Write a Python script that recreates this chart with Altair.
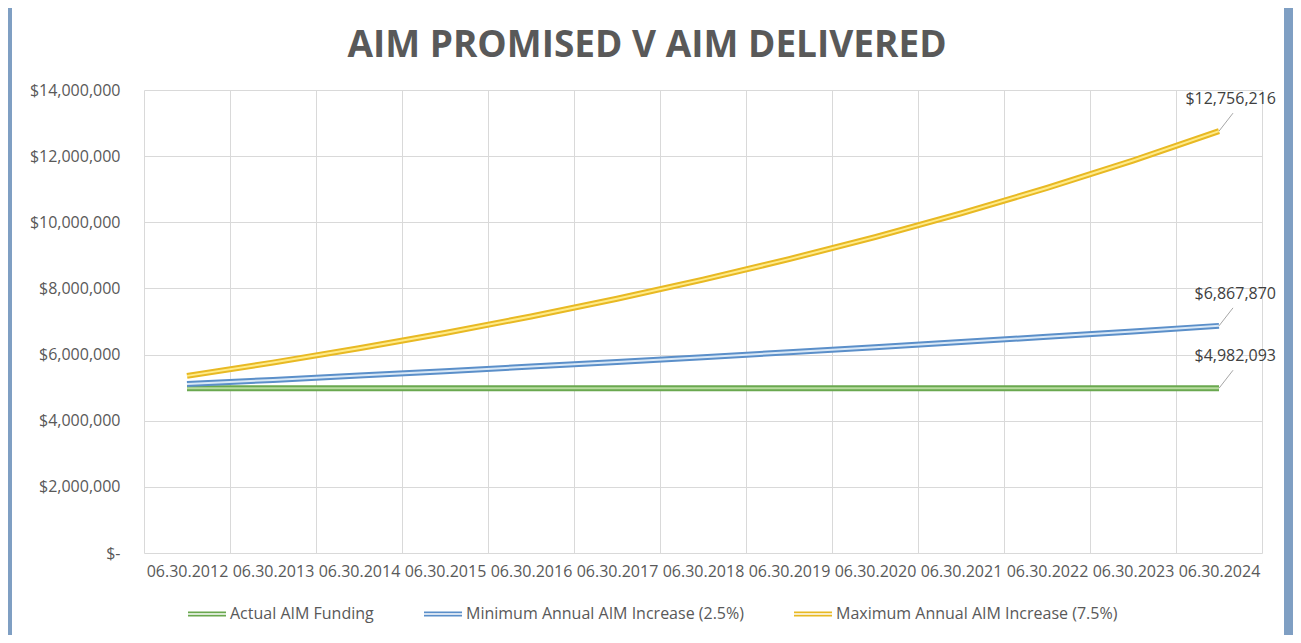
import altair as alt
import pandas as pd

years = ["06.30.2012", "06.30.2013", "06.30.2014", "06.30.2015", "06.30.2016",
         "06.30.2017", "06.30.2018", "06.30.2019", "06.30.2020", "06.30.2021",
         "06.30.2022", "06.30.2023", "06.30.2024"]
actual = [4982093, 4982093, 4982093, 4982093, 4982093, 4982093, 4982093,
          4982093, 4982093, 4982093, 4982093, 4982093, 4982093]
minimum = [5106648, 5234314, 5365172, 5499301, 5636784, 5777703, 5922146,
           6070199, 6221954, 6377503, 6536940, 6700364, 6867870]
maximum = [5355833, 5757520, 6189334, 6653534, 7152549, 7688990, 8265664,
           8885589, 9552008, 10268409, 11038540, 11866431, 12756216]
series_names = ["Actual AIM Funding", "Minimum Annual AIM Increase (2.5%)",
                "Maximum Annual AIM Increase (7.5%)"]
outer_colors = ["#6aa84f", "#5b8fc9", "#e8b923"]
inner_colors = ["#b9dca0", "#d9e8f6", "#ffeb8a"]
y_ticks = [0, 2000000, 4000000, 6000000, 8000000, 10000000, 12000000, 14000000]
title_text = "AIM PROMISED V AIM DELIVERED"

rows = []
for name, vals in zip(series_names, [actual, minimum, maximum]):
    for yr, v in zip(years, vals):
        rows.append({"year": yr, "series": name, "value": v})
df = pd.DataFrame(rows)

W, H = 1118, 463
FONT = "Open Sans"
GRAY = "#595959"
GRID = "#d9d9d9"
BORDER = "#7f9fc3"

x_enc = alt.X("year:O", sort=years, bandPosition=0.5,
              scale=alt.Scale(type="band", paddingInner=0, paddingOuter=0),
              axis=alt.Axis(title=None, labelAngle=0, labelFontSize=16, labelColor=GRAY,
                            labelFont=FONT, labelPadding=10, ticks=False, domain=False,
                            grid=True, gridColor=GRID, tickBand="extent",
                            labelOverlap=False))
y_enc = alt.Y("value:Q", scale=alt.Scale(domain=[0, 14000000], nice=False, zero=True),
              axis=alt.Axis(title=None, values=y_ticks,
                            labelExpr="datum.value == 0 ? '$-\u00a0\u00a0' : '$' + format(datum.value, ',')",
                            grid=True, gridColor=GRID, domain=False, ticks=False,
                            labelPadding=24, labelFontSize=16, labelColor=GRAY, labelFont=FONT))

base = alt.Chart(df)

outer = base.mark_line(strokeWidth=6).encode(
    x=x_enc, y=y_enc,
    color=alt.Color("series:N", sort=series_names,
                    scale=alt.Scale(domain=series_names, range=outer_colors),
                    legend=alt.Legend(orient="none", direction="horizontal",
                                      legendX=43, legendY=504,
                                      symbolType="M-1,-0.085H1M-1,0.085H1",
                                      symbolSize=1444, symbolStrokeWidth=1.6,
                                      columnPadding=46, labelOffset=3,
                                      labelFontSize=16, labelFont=FONT, labelColor=GRAY,
                                      labelLimit=400, title=None, padding=0,
                                      symbolOpacity=1)))

inner = base.mark_line(strokeWidth=2).encode(
    x=x_enc, y=y_enc,
    color=alt.Color("series:N", sort=series_names,
                    scale=alt.Scale(domain=series_names, range=inner_colors),
                    legend=None))

last = base.transform_filter(alt.datum.year == years[-1])

leader = last.mark_rule(color="#a6a6a6", strokeWidth=1, x2Offset=14, y2Offset=-18).encode(
    x=x_enc, y=y_enc,
    x2=alt.X2("year:O", bandPosition=0.5), y2=alt.Y2("value:Q"))

end_labels = last.transform_calculate(
    lbl="'$' + format(datum.value, ',')"
).mark_text(align="right", baseline="middle", dx=57, dy=-32, fontSize=16,
            font=FONT, color="#404040").encode(
    x=x_enc, y=y_enc, text="lbl:N")

one = pd.DataFrame({"a": [0]})
strip_left = alt.Chart(one).mark_rect(color=BORDER).encode(
    x=alt.value(-136), x2=alt.value(-132), y=alt.value(-82), y2=alt.value(545))
strip_right = alt.Chart(one).mark_rect(color=BORDER).encode(
    x=alt.value(1140), x2=alt.value(1149), y=alt.value(-82), y2=alt.value(545))

title = alt.Chart(pd.DataFrame({"t": [title_text]})).mark_text(
    align="center", baseline="middle", fontSize=37, fontWeight="bold", font=FONT,
    color=GRAY).encode(
    x=alt.value(503), y=alt.value(-44), text="t:N")

chart = alt.layer(
    strip_left, strip_right, outer, inner, leader, end_labels, title
).resolve_scale(color="independent").properties(
    width=W, height=H,
    autosize=alt.AutoSizeParams(type="none"),
    padding={"left": 136, "top": 82, "right": 31, "bottom": 82},
    background="white",
).configure_view(stroke=None)

chart.save("out.html", embed_options={"renderer": "svg", "actions": False})
